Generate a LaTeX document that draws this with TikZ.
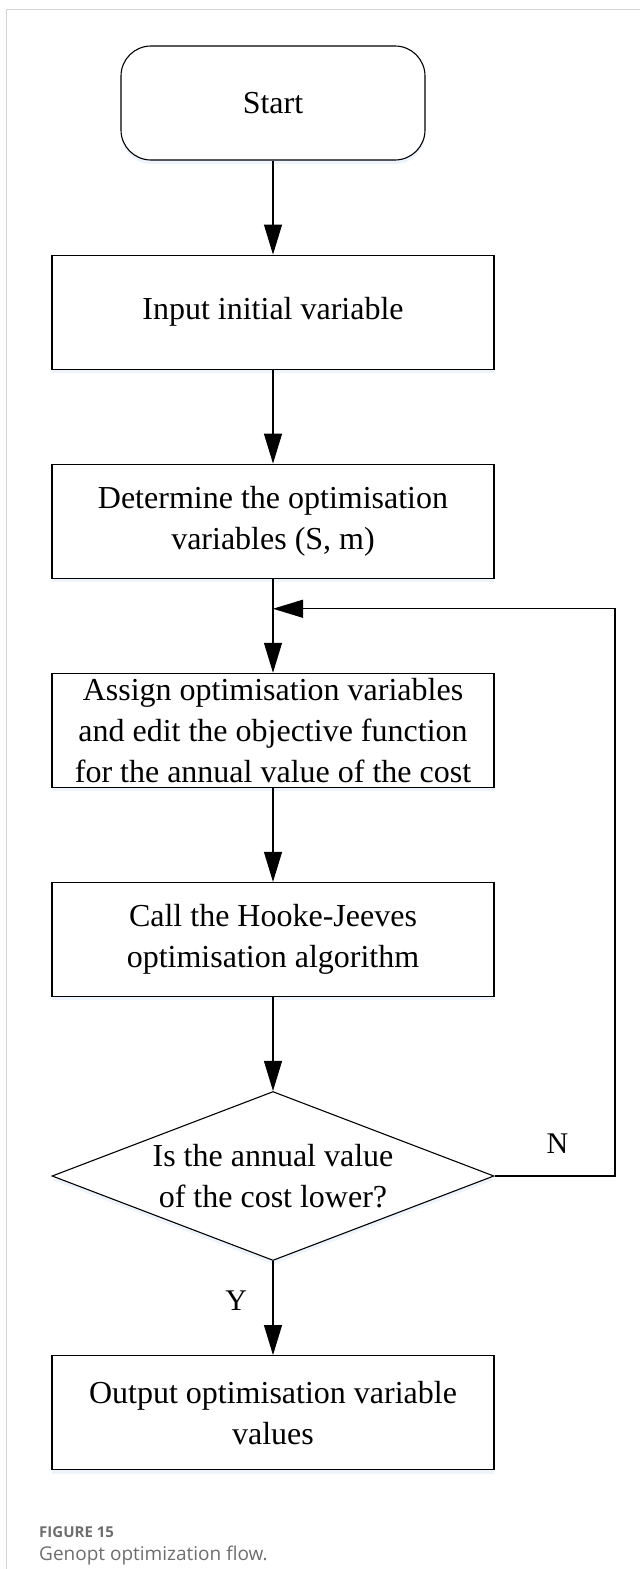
\documentclass[tikz,border=0pt]{standalone}
\usepackage{fontspec}
\setmainfont{Liberation Serif}
\newfontfamily\captionfont{Open Sans}
\usepackage{xcolor}
\usetikzlibrary{shapes.geometric,arrows.meta,positioning,calc,shadows}

\definecolor{framegray}{HTML}{D4D4D4}
\definecolor{captiongray}{HTML}{6E6E6E}
\definecolor{glow}{HTML}{DCE9FA}

\begin{document}
\begin{tikzpicture}[
    x=1pt, y=1pt,
    base/.style={draw, line width=1.1pt, align=center, fill=white, font=\fontsize{32}{41}\selectfont,
        drop shadow={shadow xshift=0pt, shadow yshift=-4pt, fill=glow}},
    terminal/.style={base, rectangle, rounded corners=30pt, minimum width=304pt, minimum height=114pt},
    process/.style={base, rectangle, minimum width=442pt, minimum height=114pt},
    decision/.style={base, diamond, aspect=2.6, inner sep=0pt, minimum width=442pt, minimum height=169pt},
    arrow/.style={-{Triangle[length=30pt,width=18pt]}, line width=1.1pt},
    label/.style={font=\fontsize{30}{34}\selectfont},
    node distance=94pt
]
\useasboundingbox (0,0) rectangle (640,-1569);

% page frame
\draw[framegray, line width=1pt] (6,-1569) -- (6,-9) -- (640,-9);

\node[terminal] (start) at (273,-103) {Start};
\node[process, below=of start] (input) {Input initial variable};
\node[process, below=of input] (determine) {Determine the optimisation\\variables (S, m)};
\node[process, below=of determine] (assign) {Assign optimisation variables\\and edit the objective function\\for the annual value of the cost};
\node[process, below=of assign] (hooke) {Call the Hooke-Jeeves\\optimisation algorithm};
\node[decision, below=of hooke] (lower) {Is the annual value\\of the cost lower?};
\node[process, below=of lower] (output) {Output optimisation variable\\values};

\coordinate (join) at ($(determine.south)+(0,-30)$);
\coordinate (corner) at (615,0);

\draw[arrow] (start) -- (input);
\draw[arrow] (input) -- (determine);
\draw[arrow] (determine) -- (assign);
\draw[arrow] (assign) -- (hooke);
\draw[arrow] (hooke) -- (lower);
\draw[arrow] (lower) -- node[label, pos=0.42, left=22pt] {Y} (output);
\draw[arrow] (lower.east) -- (lower.east -| corner) -- (join -| corner) -- (join);
\node[label] (no) at ($(lower.east)+(63,32)$) {N};

% caption
\node[anchor=west, inner sep=0pt, text=captiongray, font=\captionfont\bfseries\fontsize{15}{17}\selectfont] (fignum) at (39,-1532) {FIGURE 15};
\node[anchor=west, inner sep=0pt, text=captiongray, font=\captionfont\fontsize{19}{22}\selectfont] (figcap) at (39,-1555) {Genopt optimization flow.};
\end{tikzpicture}
\end{document}
